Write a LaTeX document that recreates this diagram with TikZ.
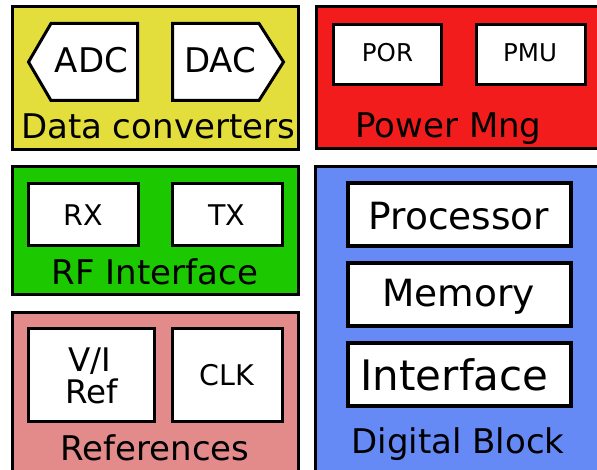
\documentclass[tikz,border=0pt]{standalone}
\usepackage{fontspec}
\setmainfont{DejaVu Sans}
\definecolor{cyel}{RGB}{228,222,60}
\definecolor{cred}{RGB}{242,28,28}
\definecolor{cgreen}{RGB}{28,200,0}
\definecolor{cpink}{RGB}{227,138,138}
\definecolor{cblue}{RGB}{101,137,245}
\begin{document}
\begin{tikzpicture}[x=1pt,y=-1pt,
  blk/.style={draw=black,line width=3pt},
  inbox/.style={draw=black,fill=white,line width=3pt,inner sep=0pt,outer sep=0pt},
  digbox/.style={inbox,line width=4pt,minimum width=223,minimum height=63},
  txt/.style={anchor=base,inner sep=0pt},
  big/.style={txt,font=\fontsize{34}{36}\selectfont}]
\useasboundingbox (0,0) rectangle (597,470);
% outer blocks
\draw[blk,fill=cyel]   (12.5,6.5)   rectangle (298.5,150);
\draw[blk,fill=cred]   (316.5,6.5)  rectangle (610,149);
\draw[blk,fill=cgreen] (12.5,166.5) rectangle (298.5,294.5);
\draw[blk,fill=cpink]  (12.5,312.5) rectangle (298.5,490);
\draw[blk,fill=cblue]  (315.5,166.5) rectangle (610,490);
% data converters
\draw[inbox] (28.5,62) -- (51,23.5) -- (137.5,23.5) -- (137.5,100.5) -- (51,100.5) -- cycle;
\draw[inbox] (172.5,23.5) -- (259,23.5) -- (283.5,62) -- (259,100.5) -- (172.5,100.5) -- cycle;
\node[big] (adc) at (91.5,73) {ADC};
\node[big] (dac) at (220,73) {DAC};
\node[big] (dconv) at (158,139) {Data converters};
% power
\node[inbox,minimum width=108,minimum height=60] (porbox) at (387.5,54.5) {};
\node[inbox,minimum width=109,minimum height=60] (pmubox) at (531,54.5) {};
\node[txt,font=\fontsize{24.5}{28}\selectfont] (por) at (387.5,62) {POR};
\node[txt,font=\fontsize{24.5}{28}\selectfont] (pmu) at (530,62) {PMU};
\node[big] (pwr) at (448.5,138) {Power Mng};
% RF
\node[inbox,minimum width=110,minimum height=62] (rxbox) at (83.5,214.5) {};
\node[inbox,minimum width=110,minimum height=62] (txbox) at (227.5,214.5) {};
\node[txt,font=\fontsize{28.5}{32}\selectfont] (rx) at (83,226) {RX};
\node[txt,font=\fontsize{28.5}{32}\selectfont] (tx) at (226.5,226) {TX};
\node[big] (rf) at (155,285) {RF Interface};
% references
\node[inbox,minimum width=126,minimum height=93] (vibox) at (91.5,375) {};
\node[inbox,minimum width=110,minimum height=93] (clkbox) at (227.5,375) {};
\node[txt,font=\fontsize{32.5}{34}\selectfont] (vi) at (89.5,371) {V/I};
\node[txt,font=\fontsize{32.5}{34}\selectfont] (ref) at (91.5,403) {Ref};
\node[txt,font=\fontsize{28.5}{32}\selectfont] (clk) at (226.5,385) {CLK};
\node[big] (refs) at (155,460) {References};
% digital
\node[digbox] (procbox) at (459.5,214.5) {};
\node[digbox] (membox) at (459.5,294.5) {};
\node[digbox] (ifbox) at (459.5,374.5) {};
\node[txt,font=\fontsize{37.5}{40}\selectfont] (proc) at (459,230) {Processor};
\node[txt,font=\fontsize{37.5}{40}\selectfont] (mem) at (458.5,307) {Memory};
\node[txt,font=\fontsize{42}{46}\selectfont] (intf) at (454.5,390) {Interface};
\node[big] (dig) at (458,453) {Digital Block};
\end{tikzpicture}
\end{document}
